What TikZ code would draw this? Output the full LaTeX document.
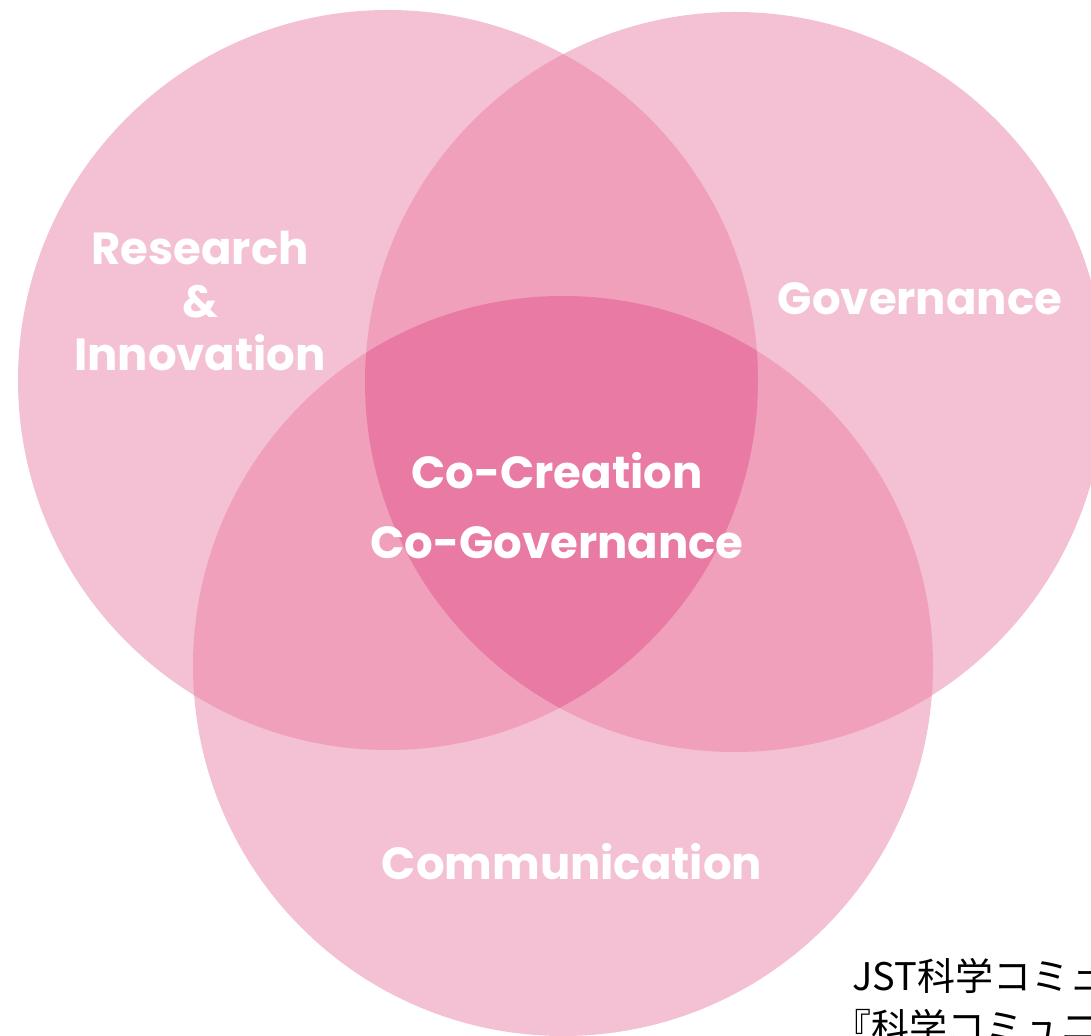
\documentclass[tikz,border=0pt]{standalone}
\usepackage{fontspec}
\setmainfont{Poppins}
\newfontfamily\cjk{Noto Sans CJK JP}
\usepackage{tikz}

\definecolor{oneset}{RGB}{243,193,211}
\definecolor{twoset}{RGB}{240,160,186}
\definecolor{allset}{RGB}{233,122,164}

\begin{document}
\begin{tikzpicture}[x=1pt, y=1pt,
      lbl/.style={text=white, font=\bfseries\fontsize{45}{53}\selectfont, align=center, inner sep=0pt},
      note/.style={text=black, font=\cjk\fontsize{38}{50}\selectfont, align=left, inner sep=0pt}]

    \useasboundingbox (0,0) rectangle (1091,1035);
    \clip (0,0) rectangle (1091,1035);

    % circle centres, all with radius \vr
    \def\vr{370}
    \coordinate (res) at (388,655);
    \coordinate (gov) at (735,653);
    \coordinate (com) at (563,369);

    % single sets
    \fill[oneset] (res) circle (\vr);
    \fill[oneset] (gov) circle (\vr);
    \fill[oneset] (com) circle (\vr);

    % pairwise overlaps
    \begin{scope}
      \clip (res) circle (\vr);
      \fill[twoset] (gov) circle (\vr);
      \fill[twoset] (com) circle (\vr);
    \end{scope}
    \begin{scope}
      \clip (gov) circle (\vr);
      \fill[twoset] (com) circle (\vr);
    \end{scope}

    % centre, all three
    \begin{scope}
      \clip (res) circle (\vr);
      \clip (gov) circle (\vr);
      \fill[allset] (com) circle (\vr);
    \end{scope}

    % labels
    \node[lbl] (resL) at (200,734) {Research\\\&\\Innovation};
    \node[lbl, anchor=base] (govL) at (920,720) {Governance};
    \node[lbl] (mid) at (557,529) {Co-Creation\\[17pt]Co-Governance};
    \node[lbl, anchor=base] (comL) at (572,155) {Communication};

    % source note, runs off the frame
    \node[note, anchor=base west] (src1) at (852,45) {JST科学コミュニケ};
    \node[note, anchor=base west] (src2) at (833,-6) {『科学コミュニケ};

\end{tikzpicture}
\end{document}
